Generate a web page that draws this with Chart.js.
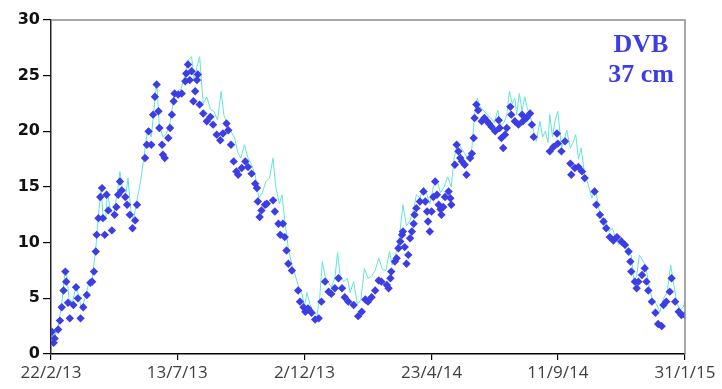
<!DOCTYPE html>
<html>
<head>
<meta charset="utf-8">
<script src="https://cdn.jsdelivr.net/npm/chart.js@4/dist/chart.umd.min.js"></script>
<style>
  body { margin: 0; background: #fff; }
  #wrap { width: 722px; height: 389px; }
</style>
</head>
<body>
<div id="wrap"><canvas id="tempChart" width="722" height="389"></canvas></div>
<script>
// x values are days since 22/2/13
const tickDays = [0, 141, 283, 425, 566, 708];
const tickLabels = ['22/2/13', '13/7/13', '2/12/13', '23/4/14', '11/9/14', '31/1/15'];

// measured soil temperature (blue diamonds)
const dvbDays = [1, 3, 4, 8, 10, 12, 14, 16, 17, 19, 21, 25, 28, 30, 33, 36, 40, 44, 46, 48,
  50, 51, 53, 55, 57, 58, 60, 62, 64, 68, 71, 73, 75, 77, 79, 83, 85, 88, 91, 94,
  96, 105, 107, 109, 112, 114, 116, 118, 120, 121, 124, 125, 127, 131, 133, 135, 137, 138, 142, 146,
  150, 151, 153, 155, 157, 159, 161, 163, 164, 166, 170, 174, 178, 181, 185, 189, 192, 196, 198, 201,
  204, 207, 209, 213, 217, 220, 224, 228, 230, 231, 233, 235, 239, 241, 248, 250, 254, 256, 259, 261,
  263, 265, 269, 276, 278, 282, 284, 287, 291, 295, 299, 302, 306, 310, 313, 317, 321, 325, 328, 332,
  338, 343, 347, 351, 354, 358, 362, 366, 369, 375, 377, 379, 380, 384, 386, 388, 390, 392, 393, 395,
  397, 399, 401, 403, 405, 406, 408, 412, 416, 418, 420, 421, 423, 425, 427, 429, 431, 433, 435, 436,
  438, 440, 444, 446, 447, 451, 453, 455, 457, 459, 462, 464, 468, 470, 472, 473, 475, 477, 481, 484,
  487, 489, 492, 496, 500, 501, 503, 505, 507, 509, 513, 514, 518, 522, 526, 527, 531, 535, 537, 539,
  557, 561, 565, 566, 570, 574, 580, 581, 585, 589, 593, 596, 607, 609, 613, 617, 620, 624, 628, 632,
  637, 641, 645, 647, 648, 652, 654, 656, 660, 663, 665, 667, 671, 675, 678, 682, 684, 687, 691, 693,
  697, 701, 704, 708];
const dvbTemp = [2.0, 1.0, 1.4, 2.2, 3.0, 4.2, 5.7, 7.4, 6.5, 4.6, 3.2, 4.4, 6.0, 5.0, 3.2, 4.2, 5.3, 6.4, 6.5, 7.4,
  9.2, 10.7, 12.2, 14.1, 14.9, 12.2, 10.7, 14.3, 12.9, 11.1, 12.5, 13.2, 14.3, 15.5, 14.7, 14.1, 13.4, 12.5, 11.3, 12.0,
  13.4, 17.6, 18.8, 20.0, 18.8, 21.5, 23.1, 24.2, 21.8, 20.3, 18.8, 17.9, 17.6, 19.4, 20.3, 21.5, 22.7, 23.4, 23.3, 23.4,
  24.5, 25.2, 26.0, 24.6, 25.4, 22.7, 23.6, 24.6, 25.1, 22.4, 21.6, 20.9, 21.3, 20.6, 19.7, 19.2, 19.8, 20.7, 20.1, 18.8,
  17.3, 16.4, 16.1, 16.7, 17.3, 16.8, 16.2, 15.3, 14.9, 13.7, 12.3, 12.9, 13.4, 13.5, 13.8, 12.8, 11.7, 10.7, 11.7, 10.5,
  9.3, 8.1, 7.5, 5.7, 4.7, 4.2, 3.8, 4.1, 3.7, 3.1, 3.2, 4.7, 6.5, 5.6, 5.4, 5.9, 6.8, 5.9, 5.1, 4.7,
  4.4, 3.4, 3.8, 4.9, 4.7, 5.1, 5.7, 6.6, 6.5, 6.2, 5.9, 6.8, 7.4, 8.3, 8.6, 9.5, 10.1, 10.7, 11.0, 9.6,
  8.1, 8.9, 10.4, 11.0, 11.7, 12.5, 13.1, 13.7, 14.6, 13.7, 12.8, 11.9, 11.0, 12.8, 14.1, 15.5, 14.3, 13.4, 13.0, 12.5,
  13.2, 14.1, 14.6, 14.0, 13.4, 17.0, 18.8, 18.2, 17.6, 17.3, 17.0, 16.1, 17.6, 18.0, 19.4, 21.2, 22.4, 21.9, 20.9, 21.2,
  20.9, 20.7, 20.4, 20.0, 21.0, 20.3, 19.4, 18.5, 19.7, 20.3, 22.2, 21.5, 20.9, 20.6, 21.5, 20.9, 21.2, 21.6, 20.6, 19.5,
  18.2, 18.6, 19.8, 18.9, 18.2, 19.1, 17.1, 16.1, 16.7, 16.8, 16.4, 15.8, 14.6, 13.4, 12.5, 11.9, 11.3, 10.5, 10.2, 10.5,
  10.1, 9.8, 9.2, 8.3, 7.4, 6.5, 5.9, 6.5, 7.1, 7.7, 6.5, 5.7, 4.7, 3.7, 2.7, 2.5, 4.4, 4.7, 5.6, 6.8,
  4.7, 3.8, 3.5, 3.5];

// second series (thin cyan line)
const lineDays = [0, 4, 8, 12, 15, 17, 20, 24, 28, 31, 34, 38, 42, 46, 50, 53, 56, 58, 61, 63,
  66, 70, 74, 77, 80, 84, 86, 89, 92, 96, 100, 104, 108, 112, 115, 118, 121, 125, 129, 133,
  137, 141, 145, 149, 153, 157, 160, 163, 166, 170, 174, 178, 182, 186, 190, 193, 197, 201, 205, 209,
  212, 216, 220, 224, 228, 232, 236, 240, 244, 248, 251, 255, 258, 261, 265, 269, 273, 277, 280, 283,
  286, 289, 293, 297, 300, 303, 306, 309, 313, 317, 320, 323, 327, 331, 334, 338, 342, 346, 350, 354,
  358, 362, 366, 370, 374, 378, 381, 385, 389, 393, 397, 401, 405, 408, 412, 416, 419, 423, 427, 431,
  435, 439, 443, 447, 450, 454, 458, 462, 466, 470, 473, 476, 479, 483, 487, 491, 495, 499, 502, 506,
  509, 512, 515, 518, 520, 523, 526, 529, 532, 535, 539, 542, 546, 549, 552, 555, 557, 560, 563, 566,
  570, 573, 576, 580, 583, 586, 589, 592, 596, 600, 604, 608, 612, 616, 619, 623, 627, 630, 634, 637,
  641, 645, 648, 651, 654, 657, 660, 664, 668, 672, 676, 680, 684, 688, 692, 695, 699, 703, 706, 708];
const lineTemp = [1.8, 1.5, 2.5, 4.5, 7.0, 7.6, 5.0, 4.6, 6.2, 5.2, 4.0, 5.0, 6.3, 6.8, 9.5, 12.5, 14.9, 12.5, 12.0, 14.6,
  13.0, 12.5, 14.5, 16.4, 14.8, 14.5, 15.8, 13.0, 12.0, 13.8, 15.5, 17.8, 20.3, 19.5, 22.0, 24.5, 20.5, 19.5, 19.8, 20.8,
  23.0, 23.6, 23.8, 24.8, 26.4, 26.7, 24.5, 25.8, 26.7, 22.5, 23.1, 22.0, 21.8, 21.0, 23.6, 21.5, 20.5, 20.0, 19.4, 18.0,
  17.6, 18.8, 17.6, 17.0, 16.1, 14.0, 14.5, 15.5, 15.8, 17.6, 15.0, 13.5, 14.3, 12.0, 9.5, 8.0, 7.0, 5.9, 5.5, 4.3,
  5.5, 4.5, 3.8, 3.5, 5.0, 8.3, 7.0, 6.5, 6.0, 6.8, 9.1, 7.0, 6.5, 6.8, 5.5, 6.5, 4.5, 4.8, 7.7, 6.8,
  7.0, 7.5, 8.6, 7.6, 7.5, 9.2, 8.0, 9.0, 10.5, 13.4, 11.5, 12.0, 13.0, 14.3, 14.0, 15.0, 14.5, 13.5, 15.0, 15.6,
  14.5, 15.0, 15.9, 15.0, 17.5, 19.0, 18.5, 18.0, 17.5, 18.5, 21.5, 23.0, 22.2, 21.9, 21.5, 21.2, 20.8, 21.9, 20.5, 20.8,
  21.5, 23.6, 22.5, 23.0, 21.5, 23.4, 21.8, 23.1, 22.0, 21.5, 20.0, 19.1, 20.9, 19.5, 20.0, 19.0, 21.5, 19.5, 21.0, 21.8,
  18.5, 19.2, 20.1, 18.5, 19.0, 19.7, 17.5, 18.5, 16.1, 15.2, 14.0, 14.9, 13.0, 12.0, 12.2, 11.0, 11.3, 10.5, 9.8, 10.5,
  9.6, 8.9, 8.9, 6.5, 7.0, 8.9, 8.5, 8.0, 6.0, 4.8, 4.5, 3.8, 5.0, 5.5, 8.0, 6.5, 4.5, 4.0, 4.2, 4.8];

const blue = '#3d3de6';
const cyan = '#62e6d4';

// thin grey frame on top and right, plus the DVB label
const framePlugin = {
  id: 'frame',
  afterDraw(chart) {
    const { ctx, chartArea } = chart;
    ctx.save();
    ctx.strokeStyle = '#8c8c8c';
    ctx.lineWidth = 1.5;
    ctx.beginPath();
    ctx.moveTo(chartArea.left, chartArea.top);
    ctx.lineTo(chartArea.right, chartArea.top);
    ctx.lineTo(chartArea.right, chartArea.bottom);
    ctx.stroke();

    ctx.fillStyle = blue;
    ctx.font = 'bold 26px "Liberation Serif", serif';
    ctx.textAlign = 'center';
    ctx.textBaseline = 'alphabetic';
    const cx = chartArea.right - 44;
    ctx.fillText('DVB', cx, chartArea.top + 32);
    ctx.fillText('37 cm', cx, chartArea.top + 62);
    ctx.restore();
  }
};

new Chart(document.getElementById('tempChart'), {
  type: 'line',
  data: {
    datasets: [
      {
        label: 'DVB',
        data: dvbDays.map((d, i) => ({ x: d, y: dvbTemp[i] })),
        showLine: false,
        pointStyle: 'rectRot',
        pointRadius: 4.2,
        pointBackgroundColor: blue,
        pointBorderWidth: 0,
        order: 0
      },
      {
        label: 'line',
        data: lineDays.map((d, i) => ({ x: d, y: lineTemp[i] })),
        borderColor: cyan,
        borderWidth: 1,
        pointRadius: 0,
        tension: 0,
        order: 1
      }
    ]
  },
  options: {
    responsive: false,
    animation: false,
    layout: { padding: { top: 20, right: 37, left: 0, bottom: 0 } },
    plugins: {
      legend: { display: false },
      tooltip: { enabled: false }
    },
    scales: {
      x: {
        type: 'linear',
        min: 0,
        max: 708,
        afterBuildTicks: scale => { scale.ticks = tickDays.map(v => ({ value: v })); },
        afterFit: scale => { scale.height = 35; },
        grid: { drawOnChartArea: false, drawTicks: true, tickLength: 6, color: '#000', lineWidth: 1.2 },
        border: { display: true, color: '#000', width: 1.5 },
        ticks: {
          autoSkip: false,
          maxRotation: 0,
          padding: 3,
          color: '#404040',
          font: { family: '"Open Sans"', size: 17 },
          callback: v => tickLabels[tickDays.indexOf(v)]
        }
      },
      y: {
        min: 0,
        max: 30,
        afterFit: scale => { scale.width = 51; },
        grid: { drawOnChartArea: false, drawTicks: true, tickLength: 8, color: '#000', lineWidth: 1.2 },
        border: { display: true, color: '#222', width: 1.5 },
        ticks: {
          stepSize: 5,
          padding: 3,
          color: '#111',
          font: { family: '"DejaVu Sans"', size: 16, weight: 'bold' }
        }
      }
    }
  },
  plugins: [framePlugin]
});
</script>
</body>
</html>
